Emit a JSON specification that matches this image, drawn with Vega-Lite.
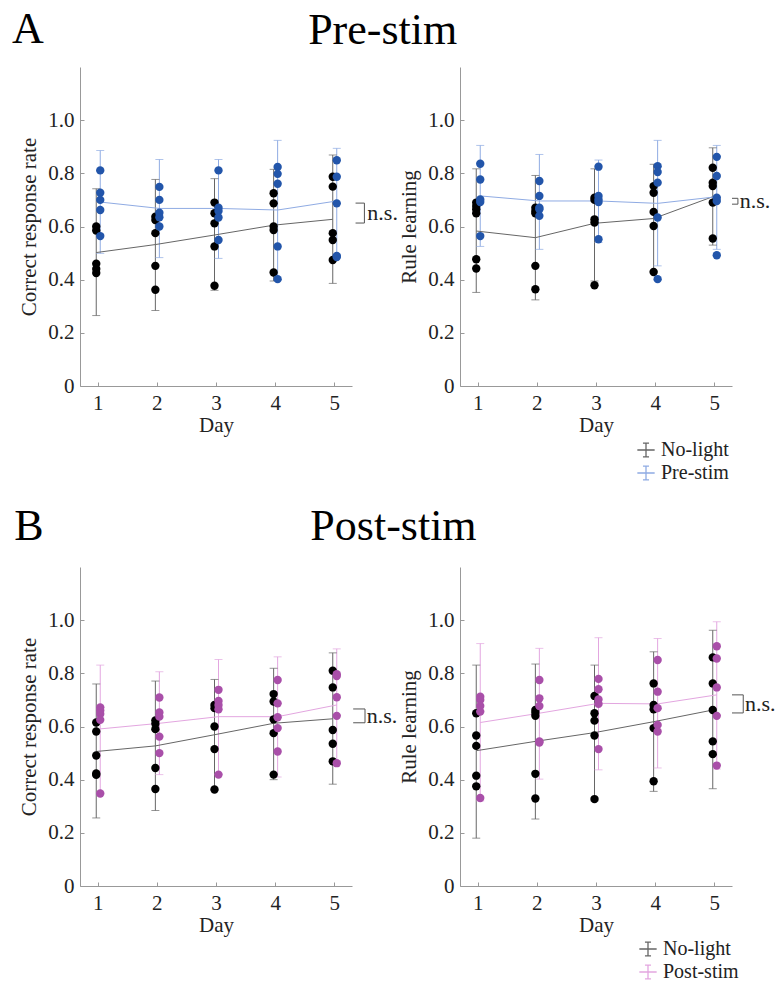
{
"$schema":"https://vega.github.io/schema/vega-lite/v6.json",
"autosize":{"type":"pad"},
"padding":{"left":12,"top":8,"right":0,"bottom":0},
"background":"white",
"datasets":{
"pts":[
{"panel":"A1","group":"No-light","day":1,"value":0.60},{"panel":"A1","group":"No-light","day":1,"value":0.585},{"panel":"A1","group":"No-light","day":1,"value":0.46},{"panel":"A1","group":"No-light","day":1,"value":0.44},{"panel":"A1","group":"No-light","day":1,"value":0.425},
{"panel":"A1","group":"No-light","day":2,"value":0.637},{"panel":"A1","group":"No-light","day":2,"value":0.624},{"panel":"A1","group":"No-light","day":2,"value":0.575},{"panel":"A1","group":"No-light","day":2,"value":0.452},{"panel":"A1","group":"No-light","day":2,"value":0.362},
{"panel":"A1","group":"No-light","day":3,"value":0.69},{"panel":"A1","group":"No-light","day":3,"value":0.65},{"panel":"A1","group":"No-light","day":3,"value":0.612},{"panel":"A1","group":"No-light","day":3,"value":0.525},{"panel":"A1","group":"No-light","day":3,"value":0.377},
{"panel":"A1","group":"No-light","day":4,"value":0.725},{"panel":"A1","group":"No-light","day":4,"value":0.687},{"panel":"A1","group":"No-light","day":4,"value":0.60},{"panel":"A1","group":"No-light","day":4,"value":0.587},{"panel":"A1","group":"No-light","day":4,"value":0.427},
{"panel":"A1","group":"No-light","day":5,"value":0.787},{"panel":"A1","group":"No-light","day":5,"value":0.75},{"panel":"A1","group":"No-light","day":5,"value":0.575},{"panel":"A1","group":"No-light","day":5,"value":0.549},{"panel":"A1","group":"No-light","day":5,"value":0.474},
{"panel":"A1","group":"Pre-stim","day":1,"value":0.811},{"panel":"A1","group":"Pre-stim","day":1,"value":0.727},{"panel":"A1","group":"Pre-stim","day":1,"value":0.70},{"panel":"A1","group":"Pre-stim","day":1,"value":0.662},{"panel":"A1","group":"Pre-stim","day":1,"value":0.564},
{"panel":"A1","group":"Pre-stim","day":2,"value":0.749},{"panel":"A1","group":"Pre-stim","day":2,"value":0.70},{"panel":"A1","group":"Pre-stim","day":2,"value":0.652},{"panel":"A1","group":"Pre-stim","day":2,"value":0.635},{"panel":"A1","group":"Pre-stim","day":2,"value":0.60},
{"panel":"A1","group":"Pre-stim","day":3,"value":0.811},{"panel":"A1","group":"Pre-stim","day":3,"value":0.671},{"panel":"A1","group":"Pre-stim","day":3,"value":0.658},{"panel":"A1","group":"Pre-stim","day":3,"value":0.634},{"panel":"A1","group":"Pre-stim","day":3,"value":0.549},
{"panel":"A1","group":"Pre-stim","day":4,"value":0.824},{"panel":"A1","group":"Pre-stim","day":4,"value":0.798},{"panel":"A1","group":"Pre-stim","day":4,"value":0.761},{"panel":"A1","group":"Pre-stim","day":4,"value":0.525},{"panel":"A1","group":"Pre-stim","day":4,"value":0.402},
{"panel":"A1","group":"Pre-stim","day":5,"value":0.849},{"panel":"A1","group":"Pre-stim","day":5,"value":0.787},{"panel":"A1","group":"Pre-stim","day":5,"value":0.687},{"panel":"A1","group":"Pre-stim","day":5,"value":0.489},{"panel":"A1","group":"Pre-stim","day":5,"value":0.485},
{"panel":"A2","group":"No-light","day":1,"value":0.69},{"panel":"A2","group":"No-light","day":1,"value":0.677},{"panel":"A2","group":"No-light","day":1,"value":0.665},{"panel":"A2","group":"No-light","day":1,"value":0.65},{"panel":"A2","group":"No-light","day":1,"value":0.477},{"panel":"A2","group":"No-light","day":1,"value":0.442},
{"panel":"A2","group":"No-light","day":2,"value":0.671},{"panel":"A2","group":"No-light","day":2,"value":0.658},{"panel":"A2","group":"No-light","day":2,"value":0.65},{"panel":"A2","group":"No-light","day":2,"value":0.452},{"panel":"A2","group":"No-light","day":2,"value":0.364},
{"panel":"A2","group":"No-light","day":3,"value":0.708},{"panel":"A2","group":"No-light","day":3,"value":0.70},{"panel":"A2","group":"No-light","day":3,"value":0.627},{"panel":"A2","group":"No-light","day":3,"value":0.615},{"panel":"A2","group":"No-light","day":3,"value":0.379},
{"panel":"A2","group":"No-light","day":4,"value":0.752},{"panel":"A2","group":"No-light","day":4,"value":0.727},{"panel":"A2","group":"No-light","day":4,"value":0.655},{"panel":"A2","group":"No-light","day":4,"value":0.602},{"panel":"A2","group":"No-light","day":4,"value":0.429},
{"panel":"A2","group":"No-light","day":5,"value":0.821},{"panel":"A2","group":"No-light","day":5,"value":0.765},{"panel":"A2","group":"No-light","day":5,"value":0.752},{"panel":"A2","group":"No-light","day":5,"value":0.69},{"panel":"A2","group":"No-light","day":5,"value":0.555},
{"panel":"A2","group":"Pre-stim","day":1,"value":0.836},{"panel":"A2","group":"Pre-stim","day":1,"value":0.777},{"panel":"A2","group":"Pre-stim","day":1,"value":0.702},{"panel":"A2","group":"Pre-stim","day":1,"value":0.692},{"panel":"A2","group":"Pre-stim","day":1,"value":0.564},
{"panel":"A2","group":"Pre-stim","day":2,"value":0.771},{"panel":"A2","group":"Pre-stim","day":2,"value":0.715},{"panel":"A2","group":"Pre-stim","day":2,"value":0.671},{"panel":"A2","group":"Pre-stim","day":2,"value":0.665},{"panel":"A2","group":"Pre-stim","day":2,"value":0.64},
{"panel":"A2","group":"Pre-stim","day":3,"value":0.825},{"panel":"A2","group":"Pre-stim","day":3,"value":0.715},{"panel":"A2","group":"Pre-stim","day":3,"value":0.702},{"panel":"A2","group":"Pre-stim","day":3,"value":0.692},{"panel":"A2","group":"Pre-stim","day":3,"value":0.552},
{"panel":"A2","group":"Pre-stim","day":4,"value":0.827},{"panel":"A2","group":"Pre-stim","day":4,"value":0.805},{"panel":"A2","group":"Pre-stim","day":4,"value":0.765},{"panel":"A2","group":"Pre-stim","day":4,"value":0.634},{"panel":"A2","group":"Pre-stim","day":4,"value":0.402},
{"panel":"A2","group":"Pre-stim","day":5,"value":0.862},{"panel":"A2","group":"Pre-stim","day":5,"value":0.79},{"panel":"A2","group":"Pre-stim","day":5,"value":0.708},{"panel":"A2","group":"Pre-stim","day":5,"value":0.696},{"panel":"A2","group":"Pre-stim","day":5,"value":0.492},
{"panel":"B1","group":"No-light","day":1,"value":0.615},{"panel":"B1","group":"No-light","day":1,"value":0.581},{"panel":"B1","group":"No-light","day":1,"value":0.491},{"panel":"B1","group":"No-light","day":1,"value":0.423},{"panel":"B1","group":"No-light","day":1,"value":0.418},
{"panel":"B1","group":"No-light","day":2,"value":0.623},{"panel":"B1","group":"No-light","day":2,"value":0.61},{"panel":"B1","group":"No-light","day":2,"value":0.59},{"panel":"B1","group":"No-light","day":2,"value":0.444},{"panel":"B1","group":"No-light","day":2,"value":0.365},
{"panel":"B1","group":"No-light","day":3,"value":0.681},{"panel":"B1","group":"No-light","day":3,"value":0.669},{"panel":"B1","group":"No-light","day":3,"value":0.60},{"panel":"B1","group":"No-light","day":3,"value":0.515},{"panel":"B1","group":"No-light","day":3,"value":0.363},
{"panel":"B1","group":"No-light","day":4,"value":0.722},{"panel":"B1","group":"No-light","day":4,"value":0.694},{"panel":"B1","group":"No-light","day":4,"value":0.627},{"panel":"B1","group":"No-light","day":4,"value":0.575},{"panel":"B1","group":"No-light","day":4,"value":0.419},
{"panel":"B1","group":"No-light","day":5,"value":0.81},{"panel":"B1","group":"No-light","day":5,"value":0.747},{"panel":"B1","group":"No-light","day":5,"value":0.587},{"panel":"B1","group":"No-light","day":5,"value":0.535},{"panel":"B1","group":"No-light","day":5,"value":0.469},
{"panel":"B1","group":"Post-stim","day":1,"value":0.672},{"panel":"B1","group":"Post-stim","day":1,"value":0.66},{"panel":"B1","group":"Post-stim","day":1,"value":0.647},{"panel":"B1","group":"Post-stim","day":1,"value":0.625},{"panel":"B1","group":"Post-stim","day":1,"value":0.348},
{"panel":"B1","group":"Post-stim","day":2,"value":0.709},{"panel":"B1","group":"Post-stim","day":2,"value":0.653},{"panel":"B1","group":"Post-stim","day":2,"value":0.637},{"panel":"B1","group":"Post-stim","day":2,"value":0.562},{"panel":"B1","group":"Post-stim","day":2,"value":0.50},
{"panel":"B1","group":"Post-stim","day":3,"value":0.738},{"panel":"B1","group":"Post-stim","day":3,"value":0.696},{"panel":"B1","group":"Post-stim","day":3,"value":0.681},{"panel":"B1","group":"Post-stim","day":3,"value":0.665},{"panel":"B1","group":"Post-stim","day":3,"value":0.419},
{"panel":"B1","group":"Post-stim","day":4,"value":0.775},{"panel":"B1","group":"Post-stim","day":4,"value":0.687},{"panel":"B1","group":"Post-stim","day":4,"value":0.635},{"panel":"B1","group":"Post-stim","day":4,"value":0.594},{"panel":"B1","group":"Post-stim","day":4,"value":0.506},
{"panel":"B1","group":"Post-stim","day":5,"value":0.797},{"panel":"B1","group":"Post-stim","day":5,"value":0.79},{"panel":"B1","group":"Post-stim","day":5,"value":0.71},{"panel":"B1","group":"Post-stim","day":5,"value":0.64},{"panel":"B1","group":"Post-stim","day":5,"value":0.462},
{"panel":"B2","group":"No-light","day":1,"value":0.65},{"panel":"B2","group":"No-light","day":1,"value":0.566},{"panel":"B2","group":"No-light","day":1,"value":0.527},{"panel":"B2","group":"No-light","day":1,"value":0.415},{"panel":"B2","group":"No-light","day":1,"value":0.375},
{"panel":"B2","group":"No-light","day":2,"value":0.662},{"panel":"B2","group":"No-light","day":2,"value":0.652},{"panel":"B2","group":"No-light","day":2,"value":0.64},{"panel":"B2","group":"No-light","day":2,"value":0.422},{"panel":"B2","group":"No-light","day":2,"value":0.329},
{"panel":"B2","group":"No-light","day":3,"value":0.715},{"panel":"B2","group":"No-light","day":3,"value":0.65},{"panel":"B2","group":"No-light","day":3,"value":0.622},{"panel":"B2","group":"No-light","day":3,"value":0.566},{"panel":"B2","group":"No-light","day":3,"value":0.327},
{"panel":"B2","group":"No-light","day":4,"value":0.762},{"panel":"B2","group":"No-light","day":4,"value":0.681},{"panel":"B2","group":"No-light","day":4,"value":0.665},{"panel":"B2","group":"No-light","day":4,"value":0.594},{"panel":"B2","group":"No-light","day":4,"value":0.394},
{"panel":"B2","group":"No-light","day":5,"value":0.86},{"panel":"B2","group":"No-light","day":5,"value":0.762},{"panel":"B2","group":"No-light","day":5,"value":0.662},{"panel":"B2","group":"No-light","day":5,"value":0.544},{"panel":"B2","group":"No-light","day":5,"value":0.496},
{"panel":"B2","group":"Post-stim","day":1,"value":0.712},{"panel":"B2","group":"Post-stim","day":1,"value":0.70},{"panel":"B2","group":"Post-stim","day":1,"value":0.677},{"panel":"B2","group":"Post-stim","day":1,"value":0.656},{"panel":"B2","group":"Post-stim","day":1,"value":0.331},
{"panel":"B2","group":"Post-stim","day":2,"value":0.775},{"panel":"B2","group":"Post-stim","day":2,"value":0.706},{"panel":"B2","group":"Post-stim","day":2,"value":0.677},{"panel":"B2","group":"Post-stim","day":2,"value":0.544},{"panel":"B2","group":"Post-stim","day":2,"value":0.54},
{"panel":"B2","group":"Post-stim","day":3,"value":0.779},{"panel":"B2","group":"Post-stim","day":3,"value":0.74},{"panel":"B2","group":"Post-stim","day":3,"value":0.702},{"panel":"B2","group":"Post-stim","day":3,"value":0.685},{"panel":"B2","group":"Post-stim","day":3,"value":0.515},
{"panel":"B2","group":"Post-stim","day":4,"value":0.85},{"panel":"B2","group":"Post-stim","day":4,"value":0.731},{"panel":"B2","group":"Post-stim","day":4,"value":0.669},{"panel":"B2","group":"Post-stim","day":4,"value":0.606},{"panel":"B2","group":"Post-stim","day":4,"value":0.581},
{"panel":"B2","group":"Post-stim","day":5,"value":0.902},{"panel":"B2","group":"Post-stim","day":5,"value":0.856},{"panel":"B2","group":"Post-stim","day":5,"value":0.747},{"panel":"B2","group":"Post-stim","day":5,"value":0.64},{"panel":"B2","group":"Post-stim","day":5,"value":0.453}
],
"errs":[
{"panel":"A1","group":"No-light","day":1,"mean":0.502,"lo":0.265,"hi":0.742},{"panel":"A1","group":"No-light","day":2,"mean":0.532,"lo":0.284,"hi":0.777},{"panel":"A1","group":"No-light","day":3,"mean":0.568,"lo":0.36,"hi":0.78},{"panel":"A1","group":"No-light","day":4,"mean":0.605,"lo":0.395,"hi":0.815},{"panel":"A1","group":"No-light","day":5,"mean":0.627,"lo":0.386,"hi":0.869},
{"panel":"A1","group":"Pre-stim","day":1,"mean":0.692,"lo":0.499,"hi":0.886},{"panel":"A1","group":"Pre-stim","day":2,"mean":0.668,"lo":0.483,"hi":0.852},{"panel":"A1","group":"Pre-stim","day":3,"mean":0.668,"lo":0.48,"hi":0.852},{"panel":"A1","group":"Pre-stim","day":4,"mean":0.662,"lo":0.40,"hi":0.924},{"panel":"A1","group":"Pre-stim","day":5,"mean":0.696,"lo":0.496,"hi":0.894},
{"panel":"A2","group":"No-light","day":1,"mean":0.583,"lo":0.352,"hi":0.817},{"panel":"A2","group":"No-light","day":2,"mean":0.558,"lo":0.324,"hi":0.792},{"panel":"A2","group":"No-light","day":3,"mean":0.612,"lo":0.395,"hi":0.817},{"panel":"A2","group":"No-light","day":4,"mean":0.63,"lo":0.43,"hi":0.834},{"panel":"A2","group":"No-light","day":5,"mean":0.712,"lo":0.53,"hi":0.896},
{"panel":"A2","group":"Pre-stim","day":1,"mean":0.715,"lo":0.525,"hi":0.905},{"panel":"A2","group":"Pre-stim","day":2,"mean":0.696,"lo":0.514,"hi":0.871},{"panel":"A2","group":"Pre-stim","day":3,"mean":0.696,"lo":0.54,"hi":0.85},{"panel":"A2","group":"Pre-stim","day":4,"mean":0.687,"lo":0.452,"hi":0.924},{"panel":"A2","group":"Pre-stim","day":5,"mean":0.712,"lo":0.514,"hi":0.905},
{"panel":"B1","group":"No-light","day":1,"mean":0.506,"lo":0.256,"hi":0.76},{"panel":"B1","group":"No-light","day":2,"mean":0.527,"lo":0.284,"hi":0.771},{"panel":"B1","group":"No-light","day":3,"mean":0.569,"lo":0.36,"hi":0.777},{"panel":"B1","group":"No-light","day":4,"mean":0.612,"lo":0.40,"hi":0.819},{"panel":"B1","group":"No-light","day":5,"mean":0.629,"lo":0.383,"hi":0.877},
{"panel":"B1","group":"Post-stim","day":1,"mean":0.591,"lo":0.35,"hi":0.831},{"panel":"B1","group":"Post-stim","day":2,"mean":0.612,"lo":0.419,"hi":0.806},{"panel":"B1","group":"Post-stim","day":3,"mean":0.637,"lo":0.42,"hi":0.852},{"panel":"B1","group":"Post-stim","day":4,"mean":0.637,"lo":0.41,"hi":0.862},{"panel":"B1","group":"Post-stim","day":5,"mean":0.681,"lo":0.47,"hi":0.892},
{"panel":"B2","group":"No-light","day":1,"mean":0.509,"lo":0.18,"hi":0.831},{"panel":"B2","group":"No-light","day":2,"mean":0.544,"lo":0.252,"hi":0.835},{"panel":"B2","group":"No-light","day":3,"mean":0.577,"lo":0.32,"hi":0.831},{"panel":"B2","group":"No-light","day":4,"mean":0.618,"lo":0.356,"hi":0.881},{"panel":"B2","group":"No-light","day":5,"mean":0.662,"lo":0.366,"hi":0.962},
{"panel":"B2","group":"Post-stim","day":1,"mean":0.615,"lo":0.32,"hi":0.912},{"panel":"B2","group":"Post-stim","day":2,"mean":0.65,"lo":0.402,"hi":0.894},{"panel":"B2","group":"Post-stim","day":3,"mean":0.687,"lo":0.437,"hi":0.934},{"panel":"B2","group":"Post-stim","day":4,"mean":0.685,"lo":0.444,"hi":0.931},{"panel":"B2","group":"Post-stim","day":5,"mean":0.719,"lo":0.44,"hi":0.994}
],
"brackets":[
{"panel":"A1","day":5.51,"day2":5.51,"value":0.613,"value2":0.688},{"panel":"A1","day":5.36,"day2":5.51,"value":0.688,"value2":0.688},{"panel":"A1","day":5.36,"day2":5.51,"value":0.613,"value2":0.613},
{"panel":"A2","day":5.40,"day2":5.40,"value":0.684,"value2":0.706},{"panel":"A2","day":5.30,"day2":5.40,"value":0.706,"value2":0.706},{"panel":"A2","day":5.30,"day2":5.40,"value":0.684,"value2":0.684},
{"panel":"B1","day":5.52,"day2":5.52,"value":0.614,"value2":0.666},{"panel":"B1","day":5.32,"day2":5.52,"value":0.666,"value2":0.666},{"panel":"B1","day":5.32,"day2":5.52,"value":0.614,"value2":0.614},
{"panel":"B2","day":5.49,"day2":5.49,"value":0.651,"value2":0.719},{"panel":"B2","day":5.30,"day2":5.49,"value":0.719,"value2":0.719},{"panel":"B2","day":5.30,"day2":5.49,"value":0.651,"value2":0.651}
],
"labels":[
{"panel":"A1","kind":"big","day":-0.45,"value":1.29,"label":"A"},
{"panel":"A1","kind":"big","day":4.558,"value":1.286,"label":"Pre-stim"},
{"panel":"A1","kind":"ns","day":5.56,"value":0.65,"label":"n.s."},
{"panel":"A2","kind":"ns","day":5.43,"value":0.695,"label":"n.s."},
{"panel":"B1","kind":"big","day":-0.41,"value":1.30,"label":"B"},
{"panel":"B1","kind":"big","day":4.595,"value":1.30,"label":"Post-stim"},
{"panel":"B1","kind":"ns","day":5.55,"value":0.64,"label":"n.s."},
{"panel":"B2","kind":"ns","day":5.52,"value":0.685,"label":"n.s."}
]
},
"config":{
"view":{"stroke":null},
"font":"Liberation Serif",
"style":{"guide-label":{"font":"Liberation Serif","fontSize":21,"fill":"#222"},"guide-title":{"font":"Liberation Serif","fontSize":21,"fontWeight":"normal","fill":"#222"}},
"axis":{"grid":false,"domainColor":"#999","tickColor":"#999","tickSize":-4,"labelFont":"Liberation Serif","labelFontSize":21,"labelColor":"#222","titleFont":"Liberation Serif","titleFontSize":21,"titleFontWeight":"normal","titleColor":"#222","labelPadding":10},
"axisX":{"titlePadding":1},
"axisY":{"titlePadding":8}
},
"columns":2,
"spacing":{"row":181,"column":108},
"bounds":"flush",
"resolve":{"scale":{"stroke":"independent"},"legend":{"stroke":"independent"}},
"concat":[
{"width":272,"height":319,
"encoding":{
"x":{"field":"day","type":"quantitative","scale":{"domain":[0.7,5.3],"nice":false,"zero":false},"axis":{"values":[1,2,3,4,5],"title":"Day","labelFont":"Liberation Serif"}},
"y":{"field":"value","type":"quantitative","scale":{"domain":[0,1.2],"nice":false},"title":"Correct response rate","axis":{"values":[0,0.2,0.4,0.6,0.8,1.0],"labelFont":"Liberation Serif","labelExpr":"datum.value==0?'0':format(datum.value,'.1f')"}}},
"layer":[
{"data":{"name":"errs"},"transform":[{"filter":"datum.panel=='A1' && datum.group=='No-light'"}],"mark":{"type":"rule","xOffset":-1.5,"strokeWidth":1},"encoding":{"y":{"field":"lo","type":"quantitative","scale":{"domain":[0,1.2],"nice":false},"title":"Correct response rate","axis":{"values":[0,0.2,0.4,0.6,0.8,1.0],"labelFont":"Liberation Serif","labelExpr":"datum.value==0?'0':format(datum.value,'.1f')"}},"y2":{"field":"hi"},"stroke":{"field":"group","type":"nominal","scale":{"domain":["No-light","Pre-stim"],"range":["#666666","#8fabe3"]},"legend":null}}},
{"data":{"name":"errs"},"transform":[{"filter":"datum.panel=='A1' && datum.group!='No-light'"}],"mark":{"type":"rule","xOffset":2.5,"strokeWidth":1},"encoding":{"y":{"field":"lo","type":"quantitative","scale":{"domain":[0,1.2],"nice":false},"title":"Correct response rate","axis":{"values":[0,0.2,0.4,0.6,0.8,1.0],"labelFont":"Liberation Serif","labelExpr":"datum.value==0?'0':format(datum.value,'.1f')"}},"y2":{"field":"hi"},"stroke":{"field":"group","type":"nominal","scale":{"domain":["No-light","Pre-stim"],"range":["#666666","#8fabe3"]},"legend":null}}},
{"data":{"name":"errs"},"transform":[{"filter":"datum.panel=='A1' && datum.group=='No-light'"},{"fold":["lo","hi"],"as":["end","v"]}],"mark":{"type":"tick","orient":"horizontal","xOffset":-1.5,"size":8,"thickness":1,"color":"#666666"},"encoding":{"y":{"field":"v","type":"quantitative","scale":{"domain":[0,1.2],"nice":false},"title":"Correct response rate","axis":{"values":[0,0.2,0.4,0.6,0.8,1.0],"labelFont":"Liberation Serif","labelExpr":"datum.value==0?'0':format(datum.value,'.1f')"}}}},
{"data":{"name":"errs"},"transform":[{"filter":"datum.panel=='A1' && datum.group!='No-light'"},{"fold":["lo","hi"],"as":["end","v"]}],"mark":{"type":"tick","orient":"horizontal","xOffset":2.5,"size":8,"thickness":1,"color":"#8fabe3"},"encoding":{"y":{"field":"v","type":"quantitative","scale":{"domain":[0,1.2],"nice":false},"title":"Correct response rate","axis":{"values":[0,0.2,0.4,0.6,0.8,1.0],"labelFont":"Liberation Serif","labelExpr":"datum.value==0?'0':format(datum.value,'.1f')"}}}},
{"data":{"name":"errs"},"transform":[{"filter":"datum.panel=='A1' && datum.group=='No-light'"}],"mark":{"type":"line","xOffset":-1.5,"strokeWidth":1},"encoding":{"y":{"field":"mean","type":"quantitative","scale":{"domain":[0,1.2],"nice":false},"title":"Correct response rate","axis":{"values":[0,0.2,0.4,0.6,0.8,1.0],"labelFont":"Liberation Serif","labelExpr":"datum.value==0?'0':format(datum.value,'.1f')"}},"stroke":{"field":"group","type":"nominal","scale":{"domain":["No-light","Pre-stim"],"range":["#666666","#8fabe3"]},"legend":null}}},
{"data":{"name":"errs"},"transform":[{"filter":"datum.panel=='A1' && datum.group!='No-light'"}],"mark":{"type":"line","xOffset":2.5,"strokeWidth":1},"encoding":{"y":{"field":"mean","type":"quantitative","scale":{"domain":[0,1.2],"nice":false},"title":"Correct response rate","axis":{"values":[0,0.2,0.4,0.6,0.8,1.0],"labelFont":"Liberation Serif","labelExpr":"datum.value==0?'0':format(datum.value,'.1f')"}},"stroke":{"field":"group","type":"nominal","scale":{"domain":["No-light","Pre-stim"],"range":["#666666","#8fabe3"]},"legend":null}}},
{"data":{"name":"pts"},"transform":[{"filter":"datum.panel=='A1' && datum.group=='No-light'"}],"mark":{"type":"point","filled":true,"size":70,"opacity":1,"strokeWidth":0,"xOffset":-1.5,"color":"#000000"}},
{"data":{"name":"pts"},"transform":[{"filter":"datum.panel=='A1' && datum.group!='No-light'"}],"mark":{"type":"point","filled":true,"size":70,"opacity":1,"strokeWidth":0,"xOffset":2.5,"color":"#2255aa"}},
{"data":{"name":"brackets"},"transform":[{"filter":"datum.panel=='A1'"}],"mark":{"type":"rule","color":"#555555","strokeWidth":1},"encoding":{"x2":{"field":"day2"},"y2":{"field":"value2"}}},
{"data":{"name":"labels"},"transform":[{"filter":"datum.panel=='A1' && datum.kind=='ns'"}],"mark":{"type":"text","align":"left","baseline":"middle","fontSize":22,"font":"Liberation Serif","color":"#222222"},"encoding":{"text":{"field":"label"}}},
{"data":{"name":"labels"},"transform":[{"filter":"datum.panel=='A1' && datum.kind=='big'"}],"mark":{"type":"text","align":"left","baseline":"alphabetic","fontSize":44,"font":"Liberation Serif","color":"#000000"},"encoding":{"text":{"field":"label"}}}
]},
{"width":272,"height":319,
"encoding":{
"x":{"field":"day","type":"quantitative","scale":{"domain":[0.7,5.3],"nice":false,"zero":false},"axis":{"values":[1,2,3,4,5],"title":"Day","labelFont":"Liberation Serif"}},
"y":{"field":"value","type":"quantitative","scale":{"domain":[0,1.2],"nice":false},"title":"Rule learning","axis":{"values":[0,0.2,0.4,0.6,0.8,1.0],"labelFont":"Liberation Serif","labelExpr":"datum.value==0?'0':format(datum.value,'.1f')"}}},
"layer":[
{"data":{"name":"errs"},"transform":[{"filter":"datum.panel=='A2' && datum.group=='No-light'"}],"mark":{"type":"rule","xOffset":-1.5,"strokeWidth":1},"encoding":{"y":{"field":"lo","type":"quantitative","scale":{"domain":[0,1.2],"nice":false},"title":"Rule learning","axis":{"values":[0,0.2,0.4,0.6,0.8,1.0],"labelFont":"Liberation Serif","labelExpr":"datum.value==0?'0':format(datum.value,'.1f')"}},"y2":{"field":"hi"},"stroke":{"field":"group","type":"nominal","scale":{"domain":["No-light","Pre-stim"],"range":["#666666","#8fabe3"]},"legend":{"title":null,"orient":"none","legendX":176,"legendY":373,"symbolType":"M-1,0L1,0M0,-0.8L0,0.8M-0.35,-0.8L0.35,-0.8M-0.35,0.8L0.35,0.8","symbolSize":300,"symbolStrokeWidth":1.3,"labelFont":"Liberation Serif","labelFontSize":20,"labelColor":"#222222","labelOffset":5,"rowPadding":3,"padding":0,"encode":{"symbols":{"update":{"stroke":{"signal":"datum.value=='No-light' ? '#222222' : '#3f6cc8'"}}}}}}}},
{"data":{"name":"errs"},"transform":[{"filter":"datum.panel=='A2' && datum.group!='No-light'"}],"mark":{"type":"rule","xOffset":2.5,"strokeWidth":1},"encoding":{"y":{"field":"lo","type":"quantitative","scale":{"domain":[0,1.2],"nice":false},"title":"Rule learning","axis":{"values":[0,0.2,0.4,0.6,0.8,1.0],"labelFont":"Liberation Serif","labelExpr":"datum.value==0?'0':format(datum.value,'.1f')"}},"y2":{"field":"hi"},"stroke":{"field":"group","type":"nominal","scale":{"domain":["No-light","Pre-stim"],"range":["#666666","#8fabe3"]}}}},
{"data":{"name":"errs"},"transform":[{"filter":"datum.panel=='A2' && datum.group=='No-light'"},{"fold":["lo","hi"],"as":["end","v"]}],"mark":{"type":"tick","orient":"horizontal","xOffset":-1.5,"size":8,"thickness":1,"color":"#666666"},"encoding":{"y":{"field":"v","type":"quantitative","scale":{"domain":[0,1.2],"nice":false},"title":"Rule learning","axis":{"values":[0,0.2,0.4,0.6,0.8,1.0],"labelFont":"Liberation Serif","labelExpr":"datum.value==0?'0':format(datum.value,'.1f')"}}}},
{"data":{"name":"errs"},"transform":[{"filter":"datum.panel=='A2' && datum.group!='No-light'"},{"fold":["lo","hi"],"as":["end","v"]}],"mark":{"type":"tick","orient":"horizontal","xOffset":2.5,"size":8,"thickness":1,"color":"#8fabe3"},"encoding":{"y":{"field":"v","type":"quantitative","scale":{"domain":[0,1.2],"nice":false},"title":"Rule learning","axis":{"values":[0,0.2,0.4,0.6,0.8,1.0],"labelFont":"Liberation Serif","labelExpr":"datum.value==0?'0':format(datum.value,'.1f')"}}}},
{"data":{"name":"errs"},"transform":[{"filter":"datum.panel=='A2' && datum.group=='No-light'"}],"mark":{"type":"line","xOffset":-1.5,"strokeWidth":1},"encoding":{"y":{"field":"mean","type":"quantitative","scale":{"domain":[0,1.2],"nice":false},"title":"Rule learning","axis":{"values":[0,0.2,0.4,0.6,0.8,1.0],"labelFont":"Liberation Serif","labelExpr":"datum.value==0?'0':format(datum.value,'.1f')"}},"stroke":{"field":"group","type":"nominal","scale":{"domain":["No-light","Pre-stim"],"range":["#666666","#8fabe3"]}}}},
{"data":{"name":"errs"},"transform":[{"filter":"datum.panel=='A2' && datum.group!='No-light'"}],"mark":{"type":"line","xOffset":2.5,"strokeWidth":1},"encoding":{"y":{"field":"mean","type":"quantitative","scale":{"domain":[0,1.2],"nice":false},"title":"Rule learning","axis":{"values":[0,0.2,0.4,0.6,0.8,1.0],"labelFont":"Liberation Serif","labelExpr":"datum.value==0?'0':format(datum.value,'.1f')"}},"stroke":{"field":"group","type":"nominal","scale":{"domain":["No-light","Pre-stim"],"range":["#666666","#8fabe3"]}}}},
{"data":{"name":"pts"},"transform":[{"filter":"datum.panel=='A2' && datum.group=='No-light'"}],"mark":{"type":"point","filled":true,"size":70,"opacity":1,"strokeWidth":0,"xOffset":-1.5,"color":"#000000"}},
{"data":{"name":"pts"},"transform":[{"filter":"datum.panel=='A2' && datum.group!='No-light'"}],"mark":{"type":"point","filled":true,"size":70,"opacity":1,"strokeWidth":0,"xOffset":2.5,"color":"#2255aa"}},
{"data":{"name":"brackets"},"transform":[{"filter":"datum.panel=='A2'"}],"mark":{"type":"rule","color":"#555555","strokeWidth":1},"encoding":{"x2":{"field":"day2"},"y2":{"field":"value2"}}},
{"data":{"name":"labels"},"transform":[{"filter":"datum.panel=='A2' && datum.kind=='ns'"}],"mark":{"type":"text","align":"left","baseline":"middle","fontSize":22,"font":"Liberation Serif","color":"#222222"},"encoding":{"text":{"field":"label"}}}
]},
{"width":272,"height":319,
"encoding":{
"x":{"field":"day","type":"quantitative","scale":{"domain":[0.7,5.3],"nice":false,"zero":false},"axis":{"values":[1,2,3,4,5],"title":"Day","labelFont":"Liberation Serif"}},
"y":{"field":"value","type":"quantitative","scale":{"domain":[0,1.2],"nice":false},"title":"Correct response rate","axis":{"values":[0,0.2,0.4,0.6,0.8,1.0],"labelFont":"Liberation Serif","labelExpr":"datum.value==0?'0':format(datum.value,'.1f')"}}},
"layer":[
{"data":{"name":"errs"},"transform":[{"filter":"datum.panel=='B1' && datum.group=='No-light'"}],"mark":{"type":"rule","xOffset":-1.5,"strokeWidth":1},"encoding":{"y":{"field":"lo","type":"quantitative","scale":{"domain":[0,1.2],"nice":false},"title":"Correct response rate","axis":{"values":[0,0.2,0.4,0.6,0.8,1.0],"labelFont":"Liberation Serif","labelExpr":"datum.value==0?'0':format(datum.value,'.1f')"}},"y2":{"field":"hi"},"stroke":{"field":"group","type":"nominal","scale":{"domain":["No-light","Post-stim"],"range":["#666666","#e3a6e0"]},"legend":null}}},
{"data":{"name":"errs"},"transform":[{"filter":"datum.panel=='B1' && datum.group!='No-light'"}],"mark":{"type":"rule","xOffset":2.5,"strokeWidth":1},"encoding":{"y":{"field":"lo","type":"quantitative","scale":{"domain":[0,1.2],"nice":false},"title":"Correct response rate","axis":{"values":[0,0.2,0.4,0.6,0.8,1.0],"labelFont":"Liberation Serif","labelExpr":"datum.value==0?'0':format(datum.value,'.1f')"}},"y2":{"field":"hi"},"stroke":{"field":"group","type":"nominal","scale":{"domain":["No-light","Post-stim"],"range":["#666666","#e3a6e0"]},"legend":null}}},
{"data":{"name":"errs"},"transform":[{"filter":"datum.panel=='B1' && datum.group=='No-light'"},{"fold":["lo","hi"],"as":["end","v"]}],"mark":{"type":"tick","orient":"horizontal","xOffset":-1.5,"size":8,"thickness":1,"color":"#666666"},"encoding":{"y":{"field":"v","type":"quantitative","scale":{"domain":[0,1.2],"nice":false},"title":"Correct response rate","axis":{"values":[0,0.2,0.4,0.6,0.8,1.0],"labelFont":"Liberation Serif","labelExpr":"datum.value==0?'0':format(datum.value,'.1f')"}}}},
{"data":{"name":"errs"},"transform":[{"filter":"datum.panel=='B1' && datum.group!='No-light'"},{"fold":["lo","hi"],"as":["end","v"]}],"mark":{"type":"tick","orient":"horizontal","xOffset":2.5,"size":8,"thickness":1,"color":"#e3a6e0"},"encoding":{"y":{"field":"v","type":"quantitative","scale":{"domain":[0,1.2],"nice":false},"title":"Correct response rate","axis":{"values":[0,0.2,0.4,0.6,0.8,1.0],"labelFont":"Liberation Serif","labelExpr":"datum.value==0?'0':format(datum.value,'.1f')"}}}},
{"data":{"name":"errs"},"transform":[{"filter":"datum.panel=='B1' && datum.group=='No-light'"}],"mark":{"type":"line","xOffset":-1.5,"strokeWidth":1},"encoding":{"y":{"field":"mean","type":"quantitative","scale":{"domain":[0,1.2],"nice":false},"title":"Correct response rate","axis":{"values":[0,0.2,0.4,0.6,0.8,1.0],"labelFont":"Liberation Serif","labelExpr":"datum.value==0?'0':format(datum.value,'.1f')"}},"stroke":{"field":"group","type":"nominal","scale":{"domain":["No-light","Post-stim"],"range":["#666666","#e3a6e0"]},"legend":null}}},
{"data":{"name":"errs"},"transform":[{"filter":"datum.panel=='B1' && datum.group!='No-light'"}],"mark":{"type":"line","xOffset":2.5,"strokeWidth":1},"encoding":{"y":{"field":"mean","type":"quantitative","scale":{"domain":[0,1.2],"nice":false},"title":"Correct response rate","axis":{"values":[0,0.2,0.4,0.6,0.8,1.0],"labelFont":"Liberation Serif","labelExpr":"datum.value==0?'0':format(datum.value,'.1f')"}},"stroke":{"field":"group","type":"nominal","scale":{"domain":["No-light","Post-stim"],"range":["#666666","#e3a6e0"]},"legend":null}}},
{"data":{"name":"pts"},"transform":[{"filter":"datum.panel=='B1' && datum.group=='No-light'"}],"mark":{"type":"point","filled":true,"size":70,"opacity":1,"strokeWidth":0,"xOffset":-1.5,"color":"#000000"}},
{"data":{"name":"pts"},"transform":[{"filter":"datum.panel=='B1' && datum.group!='No-light'"}],"mark":{"type":"point","filled":true,"size":70,"opacity":1,"strokeWidth":0,"xOffset":2.5,"color":"#a94fa9"}},
{"data":{"name":"brackets"},"transform":[{"filter":"datum.panel=='B1'"}],"mark":{"type":"rule","color":"#555555","strokeWidth":1},"encoding":{"x2":{"field":"day2"},"y2":{"field":"value2"}}},
{"data":{"name":"labels"},"transform":[{"filter":"datum.panel=='B1' && datum.kind=='ns'"}],"mark":{"type":"text","align":"left","baseline":"middle","fontSize":22,"font":"Liberation Serif","color":"#222222"},"encoding":{"text":{"field":"label"}}},
{"data":{"name":"labels"},"transform":[{"filter":"datum.panel=='B1' && datum.kind=='big'"}],"mark":{"type":"text","align":"left","baseline":"alphabetic","fontSize":44,"font":"Liberation Serif","color":"#000000"},"encoding":{"text":{"field":"label"}}}
]},
{"width":272,"height":319,
"encoding":{
"x":{"field":"day","type":"quantitative","scale":{"domain":[0.7,5.3],"nice":false,"zero":false},"axis":{"values":[1,2,3,4,5],"title":"Day","labelFont":"Liberation Serif"}},
"y":{"field":"value","type":"quantitative","scale":{"domain":[0,1.2],"nice":false},"title":"Rule learning","axis":{"values":[0,0.2,0.4,0.6,0.8,1.0],"labelFont":"Liberation Serif","labelExpr":"datum.value==0?'0':format(datum.value,'.1f')"}}},
"layer":[
{"data":{"name":"errs"},"transform":[{"filter":"datum.panel=='B2' && datum.group=='No-light'"}],"mark":{"type":"rule","xOffset":-1.5,"strokeWidth":1},"encoding":{"y":{"field":"lo","type":"quantitative","scale":{"domain":[0,1.2],"nice":false},"title":"Rule learning","axis":{"values":[0,0.2,0.4,0.6,0.8,1.0],"labelFont":"Liberation Serif","labelExpr":"datum.value==0?'0':format(datum.value,'.1f')"}},"y2":{"field":"hi"},"stroke":{"field":"group","type":"nominal","scale":{"domain":["No-light","Post-stim"],"range":["#666666","#e3a6e0"]},"legend":{"title":null,"orient":"none","legendX":178,"legendY":372,"symbolType":"M-1,0L1,0M0,-0.8L0,0.8M-0.35,-0.8L0.35,-0.8M-0.35,0.8L0.35,0.8","symbolSize":300,"symbolStrokeWidth":1.3,"labelFont":"Liberation Serif","labelFontSize":20,"labelColor":"#222222","labelOffset":5,"rowPadding":3,"padding":0,"encode":{"symbols":{"update":{"stroke":{"signal":"datum.value=='No-light' ? '#222222' : '#c87cc8'"}}}}}}}},
{"data":{"name":"errs"},"transform":[{"filter":"datum.panel=='B2' && datum.group!='No-light'"}],"mark":{"type":"rule","xOffset":2.5,"strokeWidth":1},"encoding":{"y":{"field":"lo","type":"quantitative","scale":{"domain":[0,1.2],"nice":false},"title":"Rule learning","axis":{"values":[0,0.2,0.4,0.6,0.8,1.0],"labelFont":"Liberation Serif","labelExpr":"datum.value==0?'0':format(datum.value,'.1f')"}},"y2":{"field":"hi"},"stroke":{"field":"group","type":"nominal","scale":{"domain":["No-light","Post-stim"],"range":["#666666","#e3a6e0"]}}}},
{"data":{"name":"errs"},"transform":[{"filter":"datum.panel=='B2' && datum.group=='No-light'"},{"fold":["lo","hi"],"as":["end","v"]}],"mark":{"type":"tick","orient":"horizontal","xOffset":-1.5,"size":8,"thickness":1,"color":"#666666"},"encoding":{"y":{"field":"v","type":"quantitative","scale":{"domain":[0,1.2],"nice":false},"title":"Rule learning","axis":{"values":[0,0.2,0.4,0.6,0.8,1.0],"labelFont":"Liberation Serif","labelExpr":"datum.value==0?'0':format(datum.value,'.1f')"}}}},
{"data":{"name":"errs"},"transform":[{"filter":"datum.panel=='B2' && datum.group!='No-light'"},{"fold":["lo","hi"],"as":["end","v"]}],"mark":{"type":"tick","orient":"horizontal","xOffset":2.5,"size":8,"thickness":1,"color":"#e3a6e0"},"encoding":{"y":{"field":"v","type":"quantitative","scale":{"domain":[0,1.2],"nice":false},"title":"Rule learning","axis":{"values":[0,0.2,0.4,0.6,0.8,1.0],"labelFont":"Liberation Serif","labelExpr":"datum.value==0?'0':format(datum.value,'.1f')"}}}},
{"data":{"name":"errs"},"transform":[{"filter":"datum.panel=='B2' && datum.group=='No-light'"}],"mark":{"type":"line","xOffset":-1.5,"strokeWidth":1},"encoding":{"y":{"field":"mean","type":"quantitative","scale":{"domain":[0,1.2],"nice":false},"title":"Rule learning","axis":{"values":[0,0.2,0.4,0.6,0.8,1.0],"labelFont":"Liberation Serif","labelExpr":"datum.value==0?'0':format(datum.value,'.1f')"}},"stroke":{"field":"group","type":"nominal","scale":{"domain":["No-light","Post-stim"],"range":["#666666","#e3a6e0"]}}}},
{"data":{"name":"errs"},"transform":[{"filter":"datum.panel=='B2' && datum.group!='No-light'"}],"mark":{"type":"line","xOffset":2.5,"strokeWidth":1},"encoding":{"y":{"field":"mean","type":"quantitative","scale":{"domain":[0,1.2],"nice":false},"title":"Rule learning","axis":{"values":[0,0.2,0.4,0.6,0.8,1.0],"labelFont":"Liberation Serif","labelExpr":"datum.value==0?'0':format(datum.value,'.1f')"}},"stroke":{"field":"group","type":"nominal","scale":{"domain":["No-light","Post-stim"],"range":["#666666","#e3a6e0"]}}}},
{"data":{"name":"pts"},"transform":[{"filter":"datum.panel=='B2' && datum.group=='No-light'"}],"mark":{"type":"point","filled":true,"size":70,"opacity":1,"strokeWidth":0,"xOffset":-1.5,"color":"#000000"}},
{"data":{"name":"pts"},"transform":[{"filter":"datum.panel=='B2' && datum.group!='No-light'"}],"mark":{"type":"point","filled":true,"size":70,"opacity":1,"strokeWidth":0,"xOffset":2.5,"color":"#a94fa9"}},
{"data":{"name":"brackets"},"transform":[{"filter":"datum.panel=='B2'"}],"mark":{"type":"rule","color":"#555555","strokeWidth":1},"encoding":{"x2":{"field":"day2"},"y2":{"field":"value2"}}},
{"data":{"name":"labels"},"transform":[{"filter":"datum.panel=='B2' && datum.kind=='ns'"}],"mark":{"type":"text","align":"left","baseline":"middle","fontSize":22,"font":"Liberation Serif","color":"#222222"},"encoding":{"text":{"field":"label"}}}
]}
]
}
